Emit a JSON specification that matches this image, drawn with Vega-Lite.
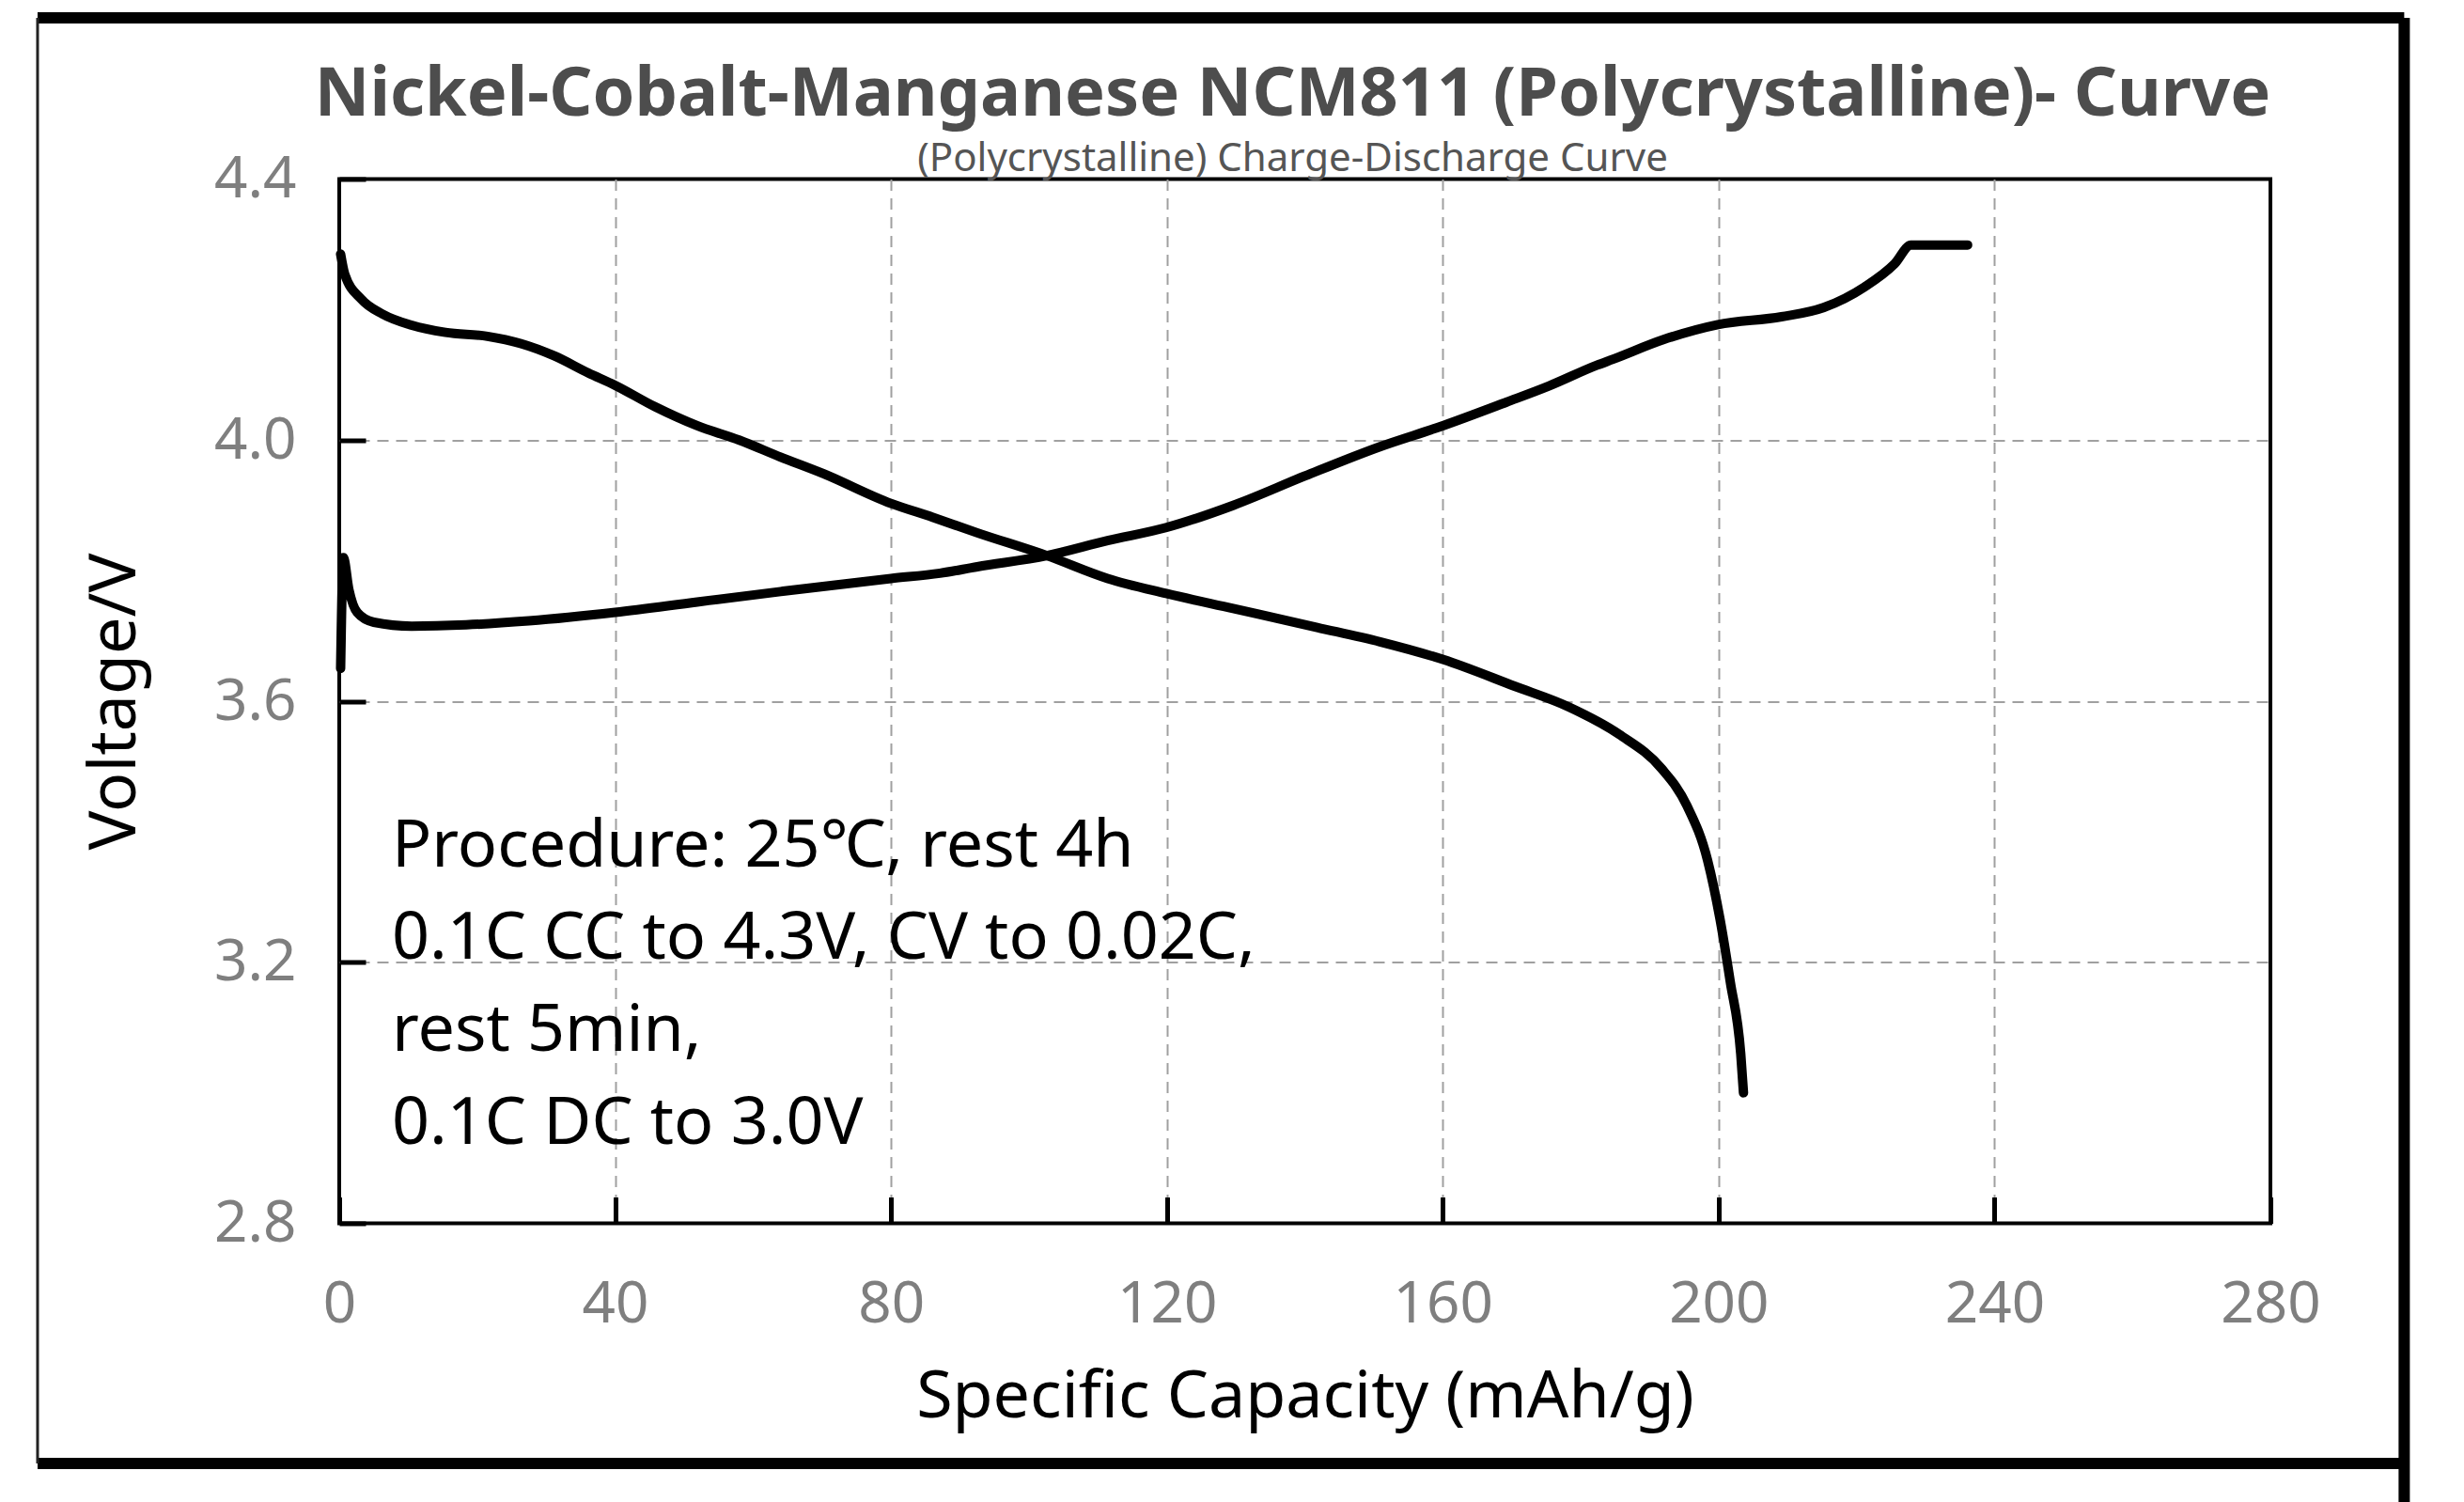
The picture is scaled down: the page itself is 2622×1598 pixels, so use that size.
{
  "$schema": "https://vega.github.io/schema/vega-lite/v6.json",
  "description": "NCM811 polycrystalline charge-discharge curve, 0.1C at 25 C.",
  "width": 2055,
  "height": 1111,
  "autosize": "none",
  "padding": {"left": 361, "top": 190.5, "right": 206, "bottom": 296.5},
  "background": "white",
  "title": {
    "text": "Nickel-Cobalt-Manganese NCM811 (Polycrystalline)- Curve",
    "subtitle": "(Polycrystalline) Charge-Discharge Curve",
    "anchor": "middle",
    "dx": -13,
    "offset": -178,
    "font": "Noto Sans",
    "fontSize": 72,
    "fontWeight": "bold",
    "color": "#4d4d4d",
    "subtitleFont": "Noto Sans",
    "subtitleFontSize": 42,
    "subtitleColor": "#555555",
    "subtitlePadding": 11
  },
  "config": {
    "view": {"stroke": "black", "strokeWidth": 4},
    "font": "Noto Sans"
  },
  "layer": [
    {
      "data": {
        "values": [
          {"curve": "charge", "capacity": 0.2, "voltage": 3.65},
          {"curve": "charge", "capacity": 0.6, "voltage": 3.82},
          {"curve": "charge", "capacity": 1.4, "voltage": 3.771},
          {"curve": "charge", "capacity": 2.6, "voltage": 3.736},
          {"curve": "charge", "capacity": 5.0, "voltage": 3.721},
          {"curve": "charge", "capacity": 10.5, "voltage": 3.715},
          {"curve": "charge", "capacity": 18.4, "voltage": 3.717},
          {"curve": "charge", "capacity": 27.5, "voltage": 3.723},
          {"curve": "charge", "capacity": 40.0, "voltage": 3.736},
          {"curve": "charge", "capacity": 51.9, "voltage": 3.752},
          {"curve": "charge", "capacity": 64.0, "voltage": 3.768},
          {"curve": "charge", "capacity": 80.0, "voltage": 3.788},
          {"curve": "charge", "capacity": 87.1, "voltage": 3.796},
          {"curve": "charge", "capacity": 92.5, "voltage": 3.806},
          {"curve": "charge", "capacity": 102.6, "voltage": 3.823},
          {"curve": "charge", "capacity": 111.4, "voltage": 3.846},
          {"curve": "charge", "capacity": 119.9, "voltage": 3.866},
          {"curve": "charge", "capacity": 129.6, "voltage": 3.9},
          {"curve": "charge", "capacity": 140.0, "voltage": 3.945},
          {"curve": "charge", "capacity": 150.9, "voltage": 3.99},
          {"curve": "charge", "capacity": 160.0, "voltage": 4.022},
          {"curve": "charge", "capacity": 169.2, "voltage": 4.058},
          {"curve": "charge", "capacity": 175.4, "voltage": 4.083},
          {"curve": "charge", "capacity": 182.4, "voltage": 4.115},
          {"curve": "charge", "capacity": 184.7, "voltage": 4.124},
          {"curve": "charge", "capacity": 192.0, "voltage": 4.154},
          {"curve": "charge", "capacity": 199.9, "voltage": 4.177},
          {"curve": "charge", "capacity": 209.1, "voltage": 4.189},
          {"curve": "charge", "capacity": 215.2, "voltage": 4.203},
          {"curve": "charge", "capacity": 221.2, "voltage": 4.235},
          {"curve": "charge", "capacity": 225.5, "voltage": 4.27},
          {"curve": "charge", "capacity": 227.9, "voltage": 4.299},
          {"curve": "charge", "capacity": 236.1, "voltage": 4.299},
          {"curve": "discharge", "capacity": 0.2, "voltage": 4.285},
          {"curve": "discharge", "capacity": 0.8, "voltage": 4.254},
          {"curve": "discharge", "capacity": 3.2, "voltage": 4.216},
          {"curve": "discharge", "capacity": 6.3, "voltage": 4.193},
          {"curve": "discharge", "capacity": 10.5, "voltage": 4.176},
          {"curve": "discharge", "capacity": 15.4, "voltage": 4.165},
          {"curve": "discharge", "capacity": 21.5, "voltage": 4.159},
          {"curve": "discharge", "capacity": 26.3, "voltage": 4.148},
          {"curve": "discharge", "capacity": 31.2, "voltage": 4.129},
          {"curve": "discharge", "capacity": 36.1, "voltage": 4.103},
          {"curve": "discharge", "capacity": 40.0, "voltage": 4.084},
          {"curve": "discharge", "capacity": 45.8, "voltage": 4.051},
          {"curve": "discharge", "capacity": 51.9, "voltage": 4.022},
          {"curve": "discharge", "capacity": 58.0, "voltage": 4.0},
          {"curve": "discharge", "capacity": 64.0, "voltage": 3.974},
          {"curve": "discharge", "capacity": 70.1, "voltage": 3.949},
          {"curve": "discharge", "capacity": 80.0, "voltage": 3.903},
          {"curve": "discharge", "capacity": 86.0, "voltage": 3.882},
          {"curve": "discharge", "capacity": 92.5, "voltage": 3.858},
          {"curve": "discharge", "capacity": 102.6, "voltage": 3.823},
          {"curve": "discharge", "capacity": 111.4, "voltage": 3.788},
          {"curve": "discharge", "capacity": 119.9, "voltage": 3.765},
          {"curve": "discharge", "capacity": 129.6, "voltage": 3.742},
          {"curve": "discharge", "capacity": 141.8, "voltage": 3.713},
          {"curve": "discharge", "capacity": 150.9, "voltage": 3.691},
          {"curve": "discharge", "capacity": 160.0, "voltage": 3.664},
          {"curve": "discharge", "capacity": 170.4, "voltage": 3.623},
          {"curve": "discharge", "capacity": 178.3, "voltage": 3.591},
          {"curve": "discharge", "capacity": 185.6, "voltage": 3.549},
          {"curve": "discharge", "capacity": 191.7, "voltage": 3.497},
          {"curve": "discharge", "capacity": 195.4, "voltage": 3.44},
          {"curve": "discharge", "capacity": 198.4, "voltage": 3.356},
          {"curve": "discharge", "capacity": 200.2, "voltage": 3.266},
          {"curve": "discharge", "capacity": 201.7, "voltage": 3.169},
          {"curve": "discharge", "capacity": 203.2, "voltage": 3.06},
          {"curve": "discharge", "capacity": 203.6, "voltage": 3.0}
        ]
      },
      "mark": {
        "type": "line",
        "interpolate": "monotone",
        "strokeWidth": 10,
        "strokeCap": "round",
        "strokeJoin": "round",
        "color": "black"
      },
      "encoding": {
        "x": {
          "field": "capacity",
          "type": "quantitative",
          "scale": {"domain": [0, 280], "nice": false, "zero": false},
          "axis": {
            "title": "Specific Capacity (mAh/g)",
            "values": [0, 40, 80, 120, 160, 200, 240, 280],
            "domain": false,
            "grid": true,
            "gridColor": "#a0a0a0",
            "gridOpacity": {"condition": {"test": "datum.value <= 0 || datum.value >= 280", "value": 0}, "value": 1},
            "gridDash": [12, 8],
            "gridWidth": 2,
            "tickSize": -28,
            "tickWidth": 5,
            "tickColor": "black",
            "labelFlush": false,
            "labelFont": "Noto Sans",
            "labelFontSize": 62,
            "labelColor": "#7f7f7f",
            "labelPadding": 84,
            "titleFont": "Noto Sans",
            "titleFontSize": 70,
            "titleFontWeight": "normal",
            "titleColor": "black",
            "titlePadding": 34
          }
        },
        "y": {
          "field": "voltage",
          "type": "quantitative",
          "scale": {"domain": [2.8, 4.4], "nice": false, "zero": false},
          "axis": {
            "title": "Voltage/V",
            "values": [2.8, 3.2, 3.6, 4.0, 4.4],
            "format": ".1f",
            "domain": false,
            "grid": true,
            "gridColor": "#a0a0a0",
            "gridOpacity": {"condition": {"test": "datum.value <= 2.8 || datum.value >= 4.4", "value": 0}, "value": 1},
            "gridDash": [12, 8],
            "gridWidth": 2,
            "tickSize": -28,
            "tickWidth": 5,
            "tickColor": "black",
            "labelFlush": false,
            "labelFont": "Noto Sans",
            "labelFontSize": 62,
            "labelColor": "#7f7f7f",
            "labelPadding": 74,
            "titleFont": "Noto Sans",
            "titleFontSize": 70,
            "titleFontWeight": "normal",
            "titleColor": "black",
            "titlePadding": 69
          }
        },
        "detail": {"field": "curve", "type": "nominal"}
      }
    },
    {
      "data": {"values": [{}]},
      "mark": {
        "type": "text",
        "text": [
          "Procedure: 25℃, rest 4h",
          "0.1C CC to 4.3V, CV to 0.02C,",
          "rest 5min,",
          "0.1C DC to 3.0V"
        ],
        "align": "left",
        "baseline": "alphabetic",
        "font": "Noto Sans",
        "fontSize": 70,
        "lineHeight": 98.3,
        "color": "black"
      },
      "encoding": {
        "x": {"datum": 7.63},
        "y": {"datum": 3.347}
      }
    },
    {
      "data": {"values": [{}]},
      "mark": {"type": "rule", "color": "black", "strokeWidth": 12},
      "encoding": {
        "x": {"datum": -43.74},
        "x2": {"datum": 299.4},
        "y": {"datum": 4.647}
      }
    },
    {
      "data": {"values": [{}]},
      "mark": {"type": "rule", "color": "black", "strokeWidth": 12},
      "encoding": {
        "x": {"datum": -43.74},
        "x2": {"datum": 299.4},
        "y": {"datum": 2.432}
      }
    },
    {
      "data": {"values": [{}]},
      "mark": {"type": "rule", "color": "black", "strokeWidth": 12},
      "encoding": {
        "x": {"datum": 299.4},
        "y": {"datum": 2.373},
        "y2": {"datum": 4.647}
      }
    },
    {
      "data": {"values": [{}]},
      "mark": {"type": "rule", "color": "#222222", "strokeWidth": 3},
      "encoding": {
        "x": {"datum": -43.74},
        "y": {"datum": 2.432},
        "y2": {"datum": 4.647}
      }
    }
  ]
}
